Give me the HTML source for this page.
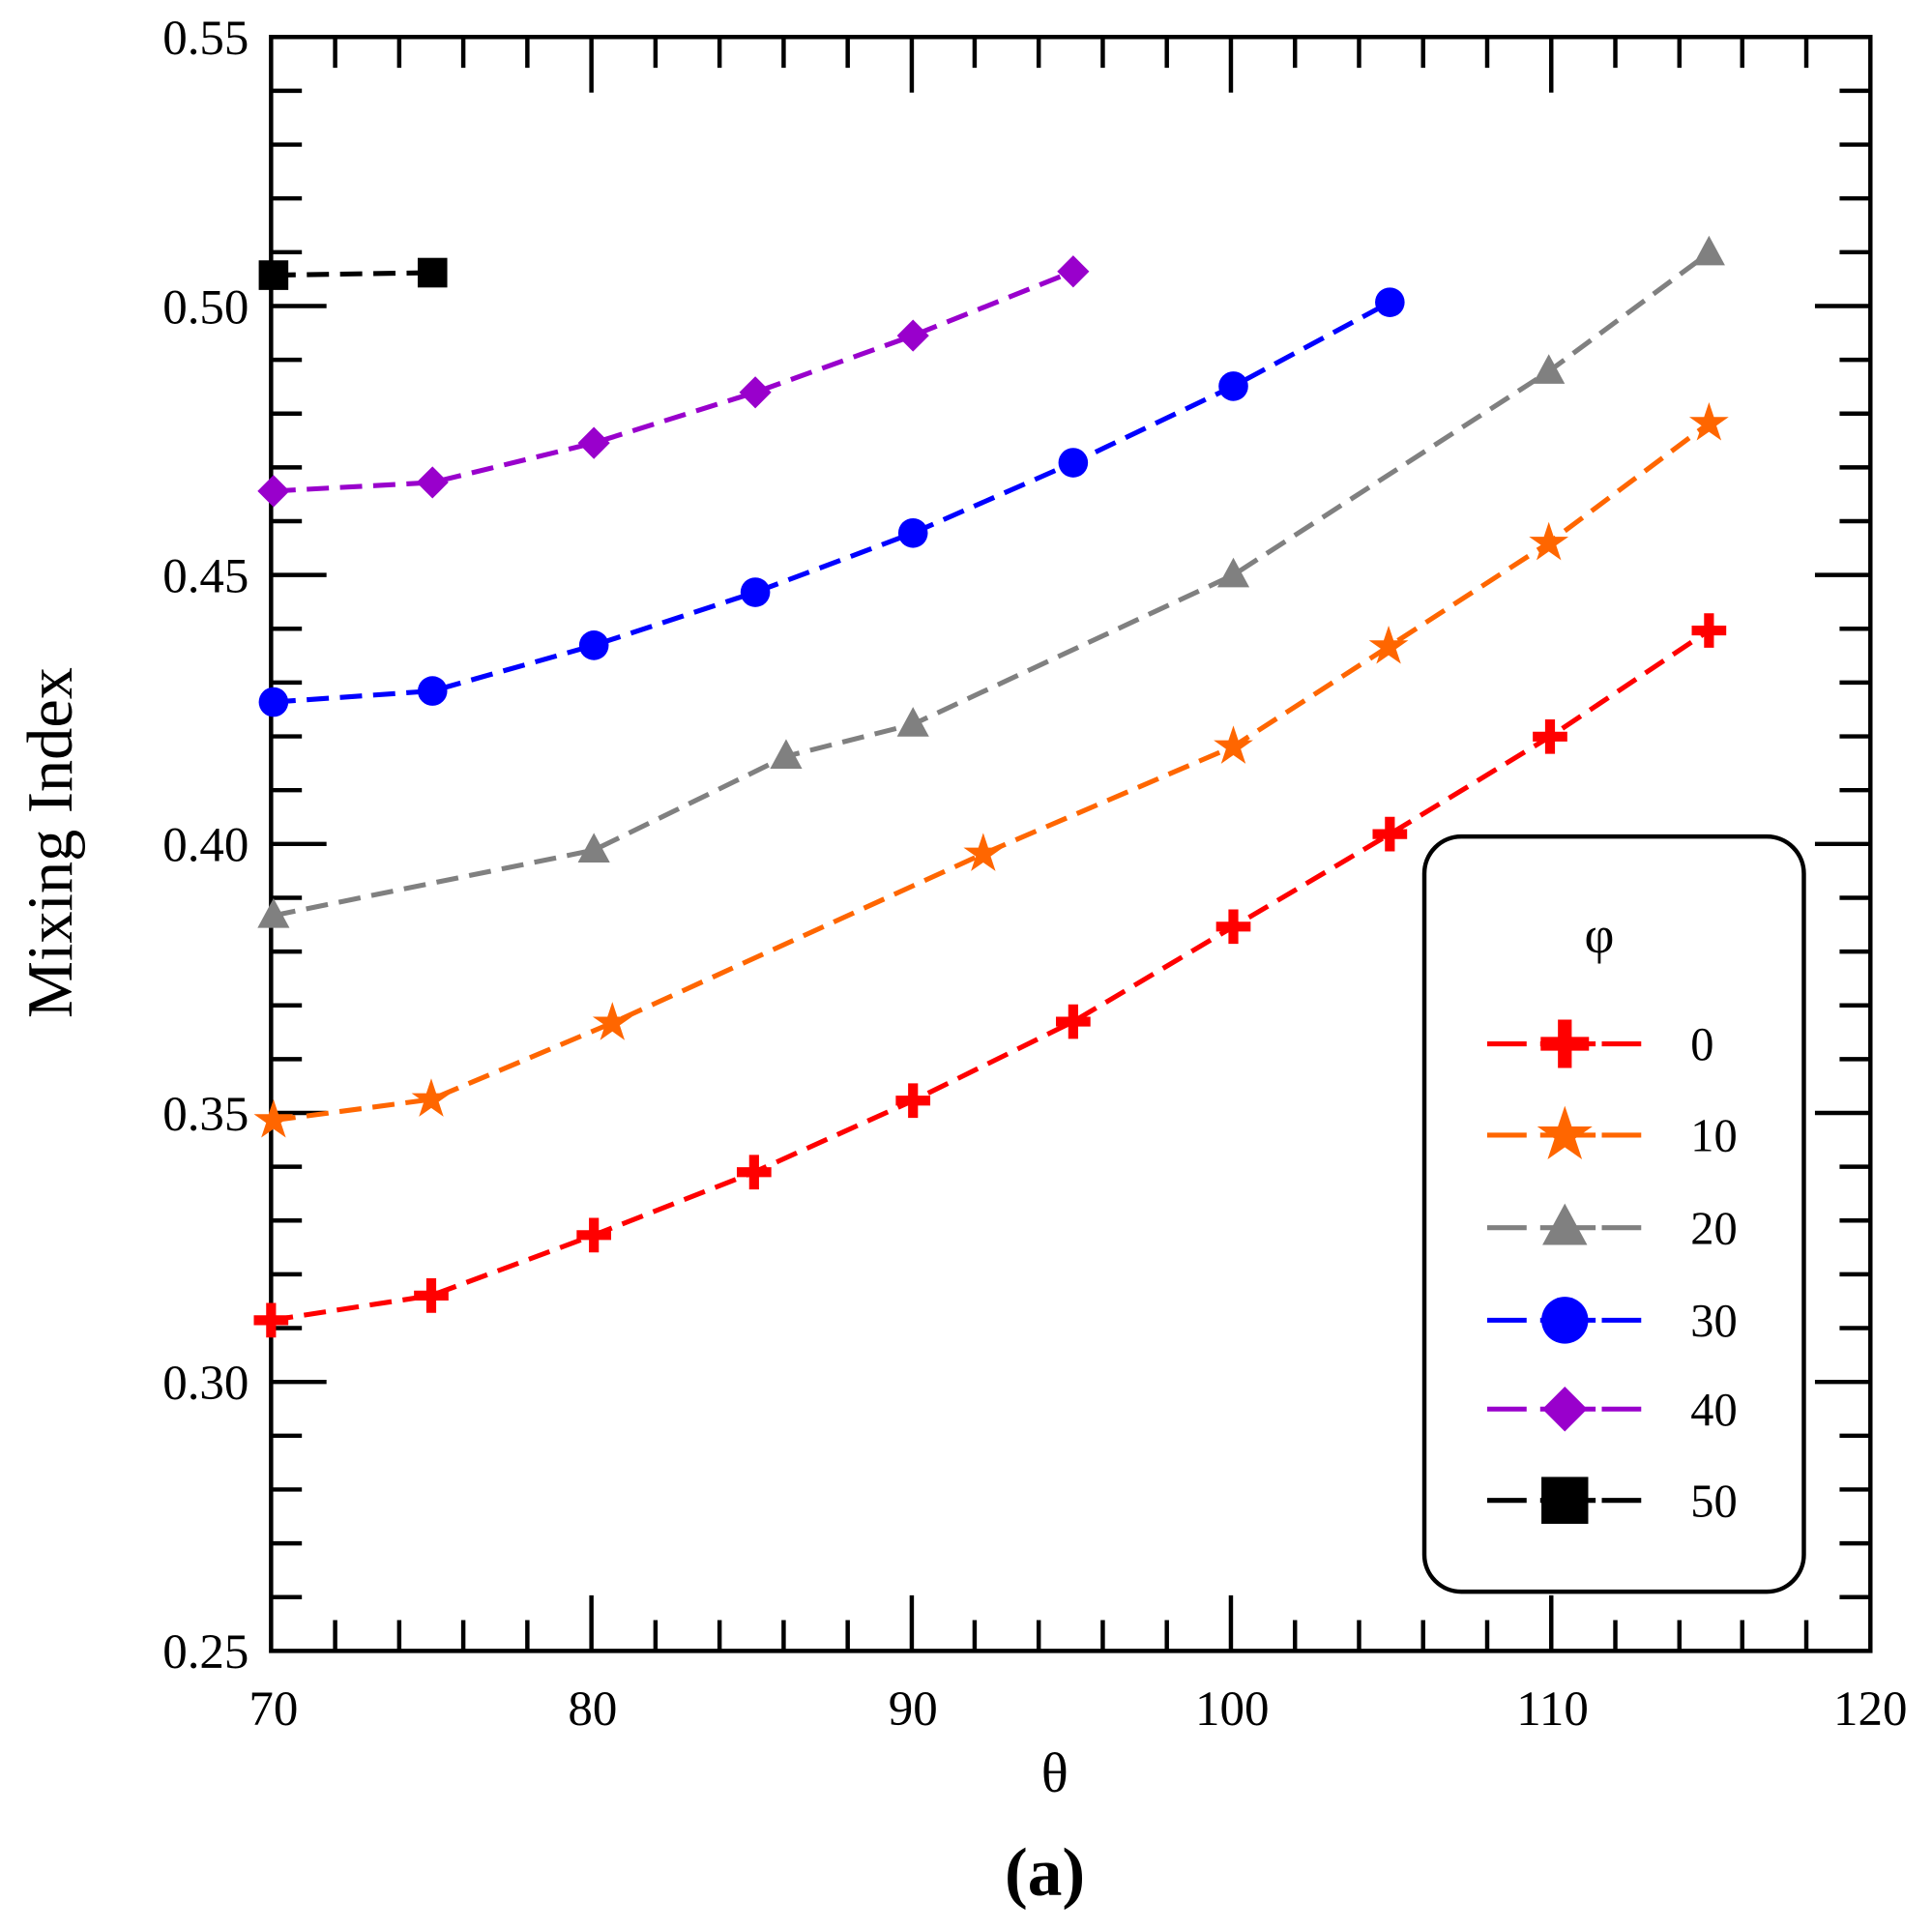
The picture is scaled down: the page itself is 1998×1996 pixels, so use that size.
<!DOCTYPE html>
<html><head><style>html,body{margin:0;padding:0;background:#fff}svg{display:block}</style></head>
<body>
<svg width="1998" height="1996" viewBox="0 0 1568 1564.2" preserveAspectRatio="none" xmlns="http://www.w3.org/2000/svg" font-family="Liberation Serif, serif">
<defs>
<path id="plus" d="M-4,-14h8v10h10v8h-10v10h-8v-10h-10v-8h10z"/>
<path id="star" d="M0,-17 L4,-5 L16,-5 L6,2 L10,14 L0,7 L-10,14 L-6,2 L-16,-5 L-4,-5z"/>
<path id="tri" d="M0,-14 L13,10 L-13,10z"/>
<path id="dia" d="M0,-13 L13,0 L0,13 L-13,0z"/>
</defs>
<g stroke="#000" stroke-width="3.5">
<rect x="220" y="30" width="1298" height="1308" fill="none"/>
<path d="
M272,1338v-25M272,30v25
M324,1338v-25M324,30v25
M376,1338v-25M376,30v25
M428,1338v-25M428,30v25
M480,1338v-45M480,30v45
M532,1338v-25M532,30v25
M584,1338v-25M584,30v25
M636,1338v-25M636,30v25
M688,1338v-25M688,30v25
M740,1338v-45M740,30v45
M791,1338v-25M791,30v25
M843,1338v-25M843,30v25
M895,1338v-25M895,30v25
M947,1338v-25M947,30v25
M999,1338v-45M999,30v45
M1051,1338v-25M1051,30v25
M1103,1338v-25M1103,30v25
M1155,1338v-25M1155,30v25
M1207,1338v-25M1207,30v25
M1259,1338v-45M1259,30v45
M1311,1338v-25M1311,30v25
M1363,1338v-25M1363,30v25
M1414,1338v-25M1414,30v25
M1466,1338v-25M1466,30v25
"/>
<path d="
M220,73.6h25M1518,73.6h-25
M220,117.2h25M1518,117.2h-25
M220,160.8h25M1518,160.8h-25
M220,204.4h25M1518,204.4h-25
M220,248h45M1518,248h-45
M220,291.6h25M1518,291.6h-25
M220,335.2h25M1518,335.2h-25
M220,378.8h25M1518,378.8h-25
M220,422.4h25M1518,422.4h-25
M220,466h45M1518,466h-45
M220,509.6h25M1518,509.6h-25
M220,553.2h25M1518,553.2h-25
M220,596.8h25M1518,596.8h-25
M220,640.4h25M1518,640.4h-25
M220,684h45M1518,684h-45
M220,727.6h25M1518,727.6h-25
M220,771.2h25M1518,771.2h-25
M220,814.8h25M1518,814.8h-25
M220,858.4h25M1518,858.4h-25
M220,902h45M1518,902h-45
M220,945.6h25M1518,945.6h-25
M220,989.2h25M1518,989.2h-25
M220,1032.8h25M1518,1032.8h-25
M220,1076.4h25M1518,1076.4h-25
M220,1120h45M1518,1120h-45
M220,1163.6h25M1518,1163.6h-25
M220,1207.2h25M1518,1207.2h-25
M220,1250.8h25M1518,1250.8h-25
M220,1294.4h25M1518,1294.4h-25
"/>
</g>
<g font-size="40" fill="#000" text-anchor="end">
<text x="202" y="44">0.55</text><text x="202" y="262">0.50</text><text x="202" y="480">0.45</text>
<text x="202" y="698">0.40</text><text x="202" y="916">0.35</text><text x="202" y="1134">0.30</text><text x="202" y="1352">0.25</text>
</g>
<g font-size="40" fill="#000" text-anchor="middle">
<text x="222" y="1398">70</text><text x="481" y="1398">80</text><text x="741" y="1398">90</text>
<text x="1000" y="1398">100</text><text x="1260" y="1398">110</text><text x="1518" y="1398">120</text>
<text x="856" y="1452" font-size="46">θ</text>
<text x="848" y="1536" font-size="56" font-weight="bold">(a)</text>
<text transform="translate(58,683) rotate(-90)" font-size="52">Mixing Index</text>
</g>
<g fill="none" stroke-width="4" stroke-dasharray="18,9">
<polyline stroke="#f00" points="220,1070 350,1050 482,1001 612,950 741,892 871,828 1001,751 1128,676 1258,597 1387,511"/>
<polyline stroke="#ff6600" points="222,908 350,891 497,829 798,692 1001,605 1127,524 1257,440 1387,343"/>
<polyline stroke="#808080" points="222,742 482,689 638,613 741,587 1001,466 1257,301 1387,205"/>
<polyline stroke="#0000ff" points="222,569 351,560 482,523 613,480 741,432 871,375 1001,313 1128,245"/>
<polyline stroke="#9900cc" points="222,398 351,391 482,359 613,318 741,272 871,220"/>
<polyline stroke="#000" points="222,223 351,221"/>
</g>
<g fill="#f00">
<use href="#plus" x="220" y="1070"/><use href="#plus" x="350" y="1050"/><use href="#plus" x="482" y="1001"/><use href="#plus" x="612" y="950"/><use href="#plus" x="741" y="892"/><use href="#plus" x="871" y="828"/><use href="#plus" x="1001" y="751"/><use href="#plus" x="1128" y="676"/><use href="#plus" x="1258" y="597"/><use href="#plus" x="1387" y="511"/>
</g>
<g fill="#ff6600">
<use href="#star" x="222" y="908"/><use href="#star" x="350" y="891"/><use href="#star" x="497" y="829"/><use href="#star" x="798" y="692"/><use href="#star" x="1001" y="605"/><use href="#star" x="1127" y="524"/><use href="#star" x="1257" y="440"/><use href="#star" x="1387" y="343"/>
</g>
<g fill="#808080">
<use href="#tri" x="222" y="742"/><use href="#tri" x="482" y="689"/><use href="#tri" x="638" y="613"/><use href="#tri" x="741" y="587"/><use href="#tri" x="1001" y="466"/><use href="#tri" x="1257" y="301"/><use href="#tri" x="1387" y="205"/>
</g>
<g fill="#0000ff">
<circle cx="222" cy="569" r="12"/><circle cx="351" cy="560" r="12"/><circle cx="482" cy="523" r="12"/><circle cx="613" cy="480" r="12"/><circle cx="741" cy="432" r="12"/><circle cx="871" cy="375" r="12"/><circle cx="1001" cy="313" r="12"/><circle cx="1128" cy="245" r="12"/>
</g>
<g fill="#9900cc">
<use href="#dia" x="222" y="398"/><use href="#dia" x="351" y="391"/><use href="#dia" x="482" y="359"/><use href="#dia" x="613" y="318"/><use href="#dia" x="741" y="272"/><use href="#dia" x="871" y="220"/>
</g>
<g fill="#000"><rect x="210" y="211" width="24" height="24"/><rect x="339" y="209" width="24" height="24"/></g>
<rect x="1156" y="678" width="308" height="612" rx="30" ry="30" fill="#fff" stroke="#000" stroke-width="3.5"/>
<text x="1298" y="772" font-size="42" text-anchor="middle">φ</text>
<g fill="none" stroke-width="4">
<path stroke="#f00" d="M1207,846h32M1250,846h45M1300,846h32"/>
<path stroke="#ff6600" d="M1207,920h32M1250,920h45M1300,920h32"/>
<path stroke="#808080" d="M1207,995h32M1250,995h45M1300,995h32"/>
<path stroke="#0000ff" d="M1207,1070h32M1250,1070h45M1300,1070h32"/>
<path stroke="#9900cc" d="M1207,1142h32M1250,1142h45M1300,1142h32"/>
<path stroke="#000" d="M1207,1216h32M1250,1216h45M1300,1216h32"/>
</g>
<g transform="translate(1270,846) scale(1.4)" fill="#f00"><use href="#plus"/></g>
<g transform="translate(1270,920) scale(1.4)" fill="#ff6600"><use href="#star"/></g>
<g transform="translate(1270,995) scale(1.4)" fill="#808080"><use href="#tri"/></g>
<circle cx="1270" cy="1070" r="19" fill="#0000ff"/>
<g transform="translate(1270,1142) scale(1.4)" fill="#9900cc"><use href="#dia"/></g>
<rect x="1251" y="1197" width="38" height="38" fill="#000"/>
<g font-size="38" text-anchor="start">
<text x="1372" y="859">0</text><text x="1372" y="933">10</text><text x="1372" y="1008">20</text>
<text x="1372" y="1083">30</text><text x="1372" y="1155">40</text><text x="1372" y="1229">50</text>
</g>
</svg>
</body></html>
